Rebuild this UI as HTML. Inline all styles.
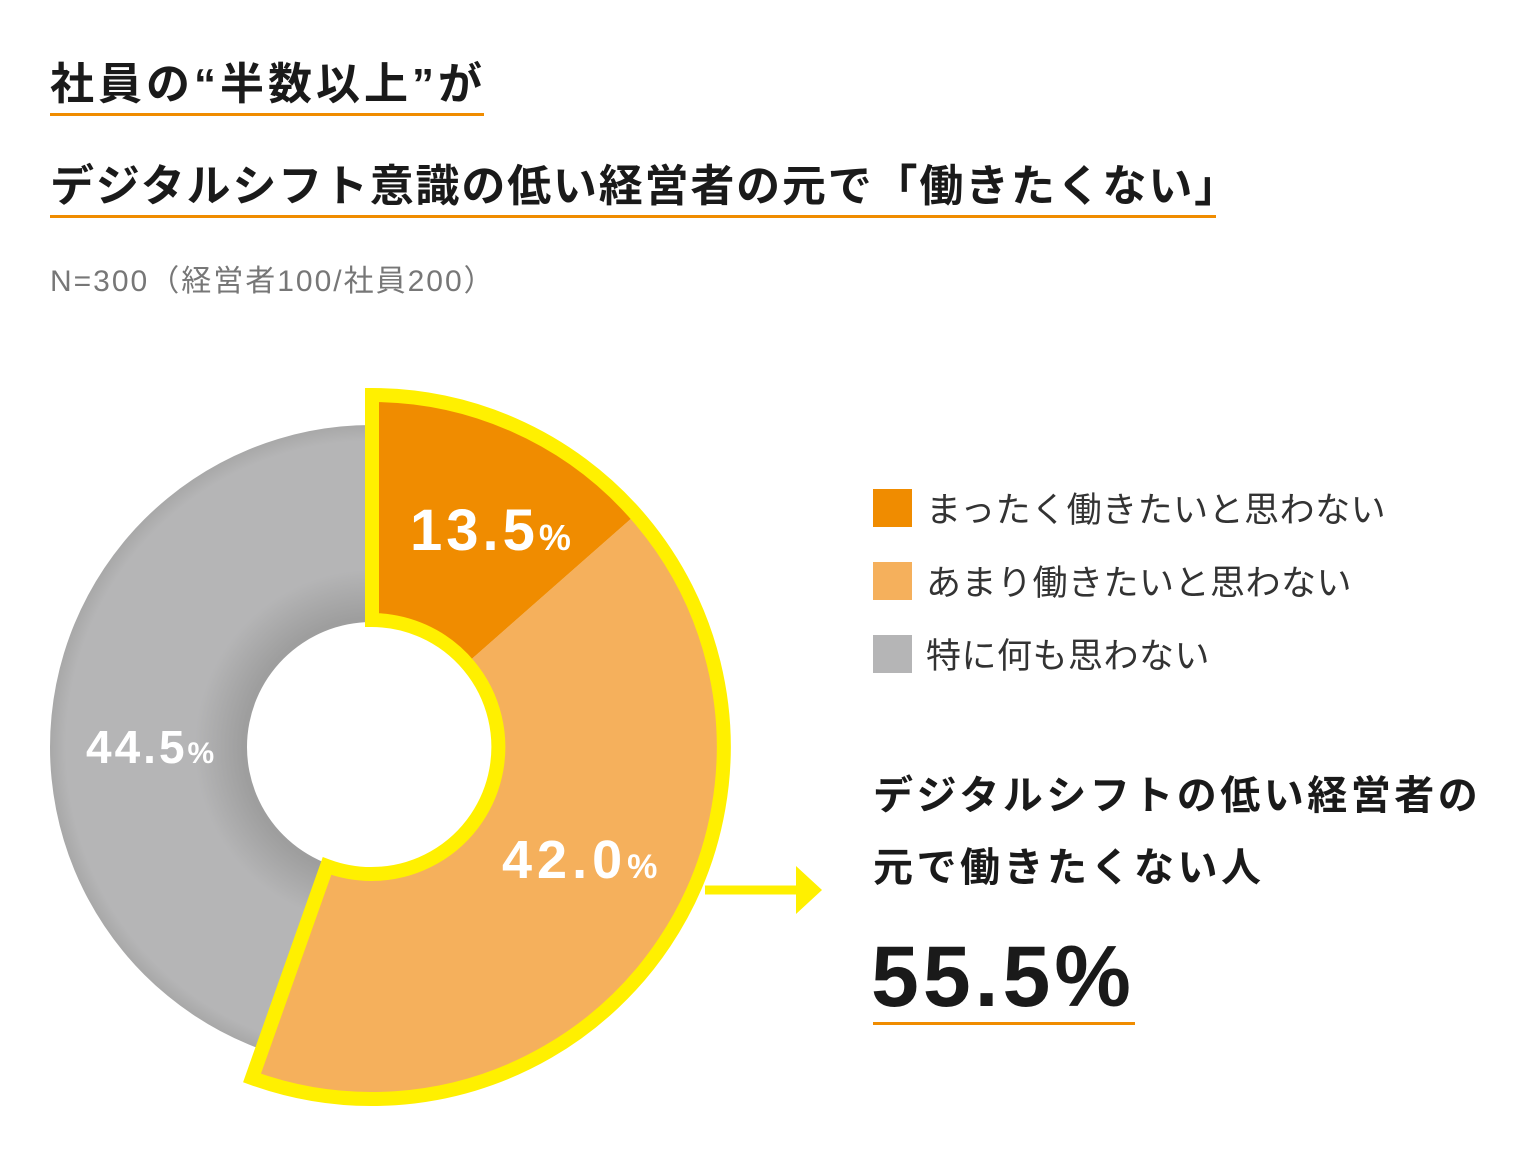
<!DOCTYPE html>
<html><head><meta charset="utf-8">
<style>
body{margin:0;background:#fff;width:1530px;height:1165px;overflow:hidden;font-family:"Liberation Sans","Noto Sans CJK JP",sans-serif;}
.t{position:absolute;white-space:nowrap;color:#1a1a1a}
</style></head><body>
<div class="t" style="left:50px;top:48px;font-size:44px;font-weight:bold;letter-spacing:4px;">社員の“半数以上”が</div>
<div style="position:absolute;left:50px;top:113px;width:434px;height:3px;background:#f08c00"></div>
<div class="t" style="left:50px;top:150px;font-size:44px;font-weight:bold;letter-spacing:1.8px;">デジタルシフト意識の低い経営者の元で「働きたくない」</div>
<div style="position:absolute;left:50px;top:215px;width:1166px;height:3px;background:#f08c00"></div>
<div class="t" style="left:50px;top:256px;font-size:30px;color:#777;letter-spacing:2px">N=300（経営者100/社員200）</div>

<svg style="position:absolute;left:0;top:0" width="1530" height="1165">
<defs>
<radialGradient id="g" cx="372" cy="747" r="322" gradientUnits="userSpaceOnUse">
<stop offset="0.4" stop-color="#9e9e9e"/><stop offset="0.55" stop-color="#b5b5b6"/><stop offset="0.95" stop-color="#b5b5b6"/><stop offset="1" stop-color="#a8a8a8"/>
</radialGradient>
</defs>
<path d="M372,425 A322,322 0 1 0 372,1069 L372,872 A125,125 0 1 1 372,622 Z" fill="url(#g)"/>
<path d="M633,517 A348,348 0 0 1 254,1074 L329,864 A125,125 0 0 0 466,664 Z" fill="#f5b05c"/>
<path d="M372,399 A348,348 0 0 1 633,517 L466,664 A125,125 0 0 0 372,622 Z" fill="#f08c00"/>
<path d="M372,395 A352,352 0 1 1 252,1078 L327,866 A127,127 0 1 0 372,620 Z" fill="none" stroke="#fff000" stroke-width="14" stroke-linejoin="miter"/>
<line x1="705" y1="890" x2="800" y2="890" stroke="#fff000" stroke-width="9"/>
<polygon points="796,866 822,890 796,914" fill="#fff000"/>
<text x="410" y="550" font-size="58" font-weight="bold" fill="#fff" letter-spacing="4" font-family="Liberation Sans,sans-serif">13.5<tspan font-size="36" letter-spacing="0">%</tspan></text>
<text x="502" y="878" font-size="54" font-weight="bold" fill="#fff" letter-spacing="5" font-family="Liberation Sans,sans-serif">42.0<tspan font-size="34" letter-spacing="0">%</tspan></text>
<text x="86" y="763" font-size="46" font-weight="bold" fill="#fff" letter-spacing="3" font-family="Liberation Sans,sans-serif">44.5<tspan font-size="30" letter-spacing="0">%</tspan></text>
</svg>

<div style="position:absolute;left:873px;top:489px;width:39px;height:38px;background:#f08c00"></div>
<div style="position:absolute;left:873px;top:562px;width:39px;height:38px;background:#f5b05c"></div>
<div style="position:absolute;left:873px;top:635px;width:39px;height:38px;background:#b5b5b6"></div>
<div class="t" style="left:926px;top:482px;font-size:35px;color:#333;letter-spacing:0.5px">まったく働きたいと思わない</div>
<div class="t" style="left:926px;top:555px;font-size:35px;color:#333;letter-spacing:0.5px">あまり働きたいと思わない</div>
<div class="t" style="left:926px;top:628px;font-size:35px;color:#333;letter-spacing:0.5px">特に何も思わない</div>
<div class="t" style="left:873px;top:763px;font-size:40px;font-weight:bold;letter-spacing:3.5px">デジタルシフトの低い経営者の</div>
<div class="t" style="left:873px;top:835px;font-size:40px;font-weight:bold;letter-spacing:3.5px">元で働きたくない人</div>
<div class="t" style="left:871px;top:928px;font-size:86px;font-weight:bold;letter-spacing:4px;font-family:'Liberation Sans',sans-serif">55.5%</div>
<div style="position:absolute;left:873px;top:1022px;width:262px;height:3px;background:#f08c00"></div>
</body></html>
